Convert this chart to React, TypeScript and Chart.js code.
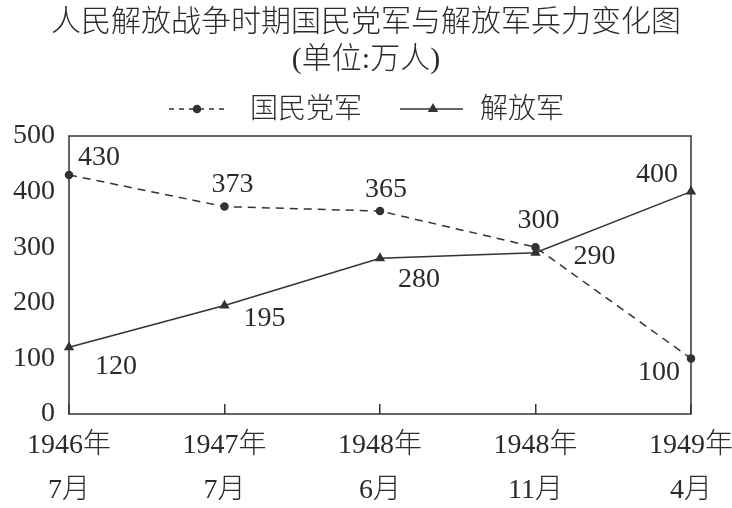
import React, { useEffect, useRef } from "react";
import { Chart, registerables } from "chart.js";
import { drawPoint } from "chart.js/helpers";

Chart.register(...registerables);

// ---- data ----
const categories: string[][] = [
  ["1946年", "7月"],
  ["1947年", "7月"],
  ["1948年", "6月"],
  ["1948年", "11月"],
  ["1949年", "4月"],
];
const kmtValues = [430, 373, 365, 300, 100];
const plaValues = [120, 195, 280, 290, 400];
const seriesNames = ["国民党军", "解放军"];
const titleLines = ["人民解放战争时期国民党军与解放军兵力变化图", "(单位:万人)"];
const yMin = 0;
const yMax = 500;
const yStep = 100;

// ---- styles ----
const INK = "#2b2b2b";
const LINE = "#333333";
const FONT = "'Liberation Serif', 'Noto Sans CJK SC', serif";

// label offsets (relative to each point) for the value labels
const labelOffsets: number[][][] = [
  [[30, -17], [8, -22], [6, -21], [3, -27], [-32, 14]],
  [[47, 19], [40, 13], [39, 21], [59, 4], [-34, -17]],
];

const boxPlugin = {
  id: "frameBox",
  beforeDatasetsDraw(chart: any) {
    const { ctx, chartArea } = chart;
    ctx.save();
    ctx.strokeStyle = LINE;
    ctx.lineWidth = 1.5;
    ctx.strokeRect(chartArea.left, chartArea.top, chartArea.right - chartArea.left, chartArea.bottom - chartArea.top);
    ctx.restore();
  },
};

const valueLabelPlugin = {
  id: "valueLabels",
  afterDatasetsDraw(chart: any) {
    const { ctx } = chart;
    ctx.save();
    ctx.fillStyle = INK;
    ctx.font = `28px ${FONT}`;
    ctx.textAlign = "center";
    ctx.textBaseline = "middle";
    chart.data.datasets.forEach((ds: any, di: number) => {
      const meta = chart.getDatasetMeta(di);
      meta.data.forEach((pt: any, i: number) => {
        const off = labelOffsets[di][i];
        ctx.fillText(String(ds.data[i]), pt.x + off[0], pt.y + off[1]);
      });
    });
    ctx.restore();
  },
};

const legendPlugin = {
  id: "customLegend",
  afterDraw(chart: any) {
    const { ctx } = chart;
    const cx = chart.width / 2;
    const y = 109;
    ctx.save();
    ctx.strokeStyle = LINE;
    ctx.fillStyle = LINE;
    ctx.lineWidth = 1.5;
    // item 1: dashed + dot
    ctx.setLineDash([5, 5]);
    ctx.beginPath();
    ctx.moveTo(cx - 197, y);
    ctx.lineTo(cx - 138, y);
    ctx.stroke();
    ctx.setLineDash([]);
    drawPoint(ctx, { pointStyle: "circle", radius: 3.5, borderWidth: 1, rotation: 0 } as any, cx - 169, y);
    // item 2: solid + triangle
    ctx.beginPath();
    ctx.moveTo(cx + 34, y);
    ctx.lineTo(cx + 97, y);
    ctx.stroke();
    drawPoint(ctx, { pointStyle: "triangle", radius: 4.5, borderWidth: 1, rotation: 0 } as any, cx + 67, y);
    ctx.fillStyle = INK;
    ctx.font = `300 28px ${FONT}`;
    ctx.textAlign = "left";
    ctx.textBaseline = "middle";
    ctx.fillText(seriesNames[0], cx - 116, y + 2);
    ctx.fillText(seriesNames[1], cx + 114, y + 2);
    ctx.restore();
  },
};

export default function App() {
  const ref = useRef<HTMLCanvasElement | null>(null);

  useEffect(() => {
    if (!ref.current) return;
    Chart.defaults.font.family = FONT;
    Chart.defaults.color = INK;
    const chart = new Chart(ref.current, {
      type: "line",
      data: {
        labels: categories,
        datasets: [
          {
            label: seriesNames[0],
            data: kmtValues,
            borderColor: LINE,
            backgroundColor: LINE,
            borderWidth: 1.5,
            borderDash: [8, 6],
            pointStyle: "circle",
            pointRadius: 3.5,
            pointBackgroundColor: LINE,
            pointBorderColor: LINE,
            tension: 0,
            clip: false as any,
          },
          {
            label: seriesNames[1],
            data: plaValues,
            borderColor: LINE,
            backgroundColor: LINE,
            borderWidth: 1.5,
            pointStyle: "triangle",
            pointRadius: 4.5,
            pointBackgroundColor: LINE,
            pointBorderColor: LINE,
            tension: 0,
            clip: false as any,
          },
        ],
      },
      options: {
        animation: false,
        responsive: false,
        layout: { padding: 0 },
        plugins: {
          legend: { display: false },
          tooltip: { enabled: false },
          title: {
            display: true,
            text: titleLines,
            color: INK,
            font: { size: 30, weight: "300" as any, lineHeight: 37 / 30, family: FONT },
            padding: { top: 4.5, bottom: 57.5 },
          },
        },
        scales: {
          x: {
            offset: false,
            border: { display: false },
            grid: {
              display: true,
              drawOnChartArea: false,
              drawTicks: true,
              tickLength: -10,
              color: LINE,
              lineWidth: 1.5,
            },
            ticks: {
              color: INK,
              font: { size: 28, lineHeight: 45 / 28, family: FONT, weight: "300" as any },
              padding: 19,
              maxRotation: 0,
              autoSkip: false,
            },
            afterFit: (s: any) => {
              s.height = 94;
              s.paddingLeft = 0;
              s.paddingRight = 41;
            },
          },
          y: {
            min: yMin,
            max: yMax,
            border: { display: false },
            grid: { display: false },
            ticks: {
              stepSize: yStep,
              color: INK,
              font: { size: 28, family: FONT },
              padding: 6,
            },
            afterFit: (s: any) => {
              s.width = 69;
            },
          },
        },
      },
      plugins: [boxPlugin, valueLabelPlugin, legendPlugin],
    });
    return () => chart.destroy();
  }, []);

  return (
    <div style={{ position: "fixed", left: 0, top: 0, width: 732, height: 508, background: "#fff" }}>
      <canvas ref={ref} width={732} height={508} style={{ display: "block", width: 732, height: 508 }} />
    </div>
  );
}
